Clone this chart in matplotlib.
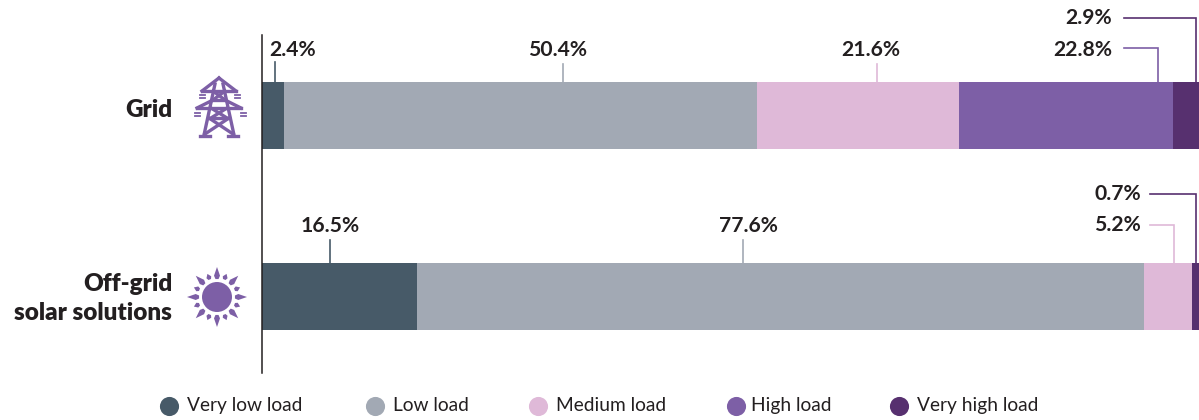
import numpy as np
import matplotlib.pyplot as plt
from matplotlib.patches import Polygon, Circle

plt.rcParams['font.family'] = ['Lato', 'DejaVu Sans']

# data
categories = ['Grid', 'Off-grid', 'solar solutions']
series = ['Very low load', 'Low load', 'Medium load', 'High load', 'Very high load']
grid_values = [2.4, 50.4, 21.6, 22.8, 2.9]
offgrid_values = [16.5, 77.6, 5.2, 0.0, 0.7]
colors = ['#475A68', '#A2A9B4', '#DFB9D8', '#7D5FA6', '#57306F']
TEXT = '#231F20'
W, H = 1199, 420

fig = plt.figure(figsize=(W / 100, H / 100), dpi=100)

# main axes, x in percent (0 at px 262, 100 at px 1199)
ax = fig.add_axes([262 / W, 0, 937 / W, 1])
ax.set_xlim(0, 100)
ax.set_ylim(1.682, -0.638)
values = np.array([grid_values, offgrid_values])
left = np.zeros(2)
for i, name in enumerate(series):
    ax.barh([0, 1], values[:, i], left=left, height=0.37, color=colors[i], label=name)
    left += values[:, i]
ax.set_xticks([])
ax.set_yticks([])
for s in ['top', 'right', 'bottom']:
    ax.spines[s].set_visible(False)
ax.spines['left'].set_bounds(-0.447, 1.425)
ax.spines['left'].set_linewidth(1.1)
ax.spines['left'].set_color(TEXT)
ax.spines['left'].set_zorder(5)
ax.patch.set_alpha(0)

# overlay in pixel coordinates for labels, leaders, icons, legend
ov = fig.add_axes([0, 0, 1, 1])
ov.set_xlim(0, W)
ov.set_ylim(H, 0)
ov.axis('off')
ov.patch.set_alpha(0)

# category labels
for txt, y in zip(categories, [110, 284, 313]):
    ov.text(172, y, txt, ha='right', va='center', fontsize=17.5, fontweight='heavy', color=TEXT)


# value labels and leader lines
def label(x, y, txt, ha='center'):
    ov.text(x, y, txt, ha=ha, va='center', fontsize=15.2, fontweight='bold', color=TEXT)


label(293, 50, '2.4%')
label(558, 50, '50.4%')
label(871, 50, '21.6%')
label(1112, 50, '22.8%', ha='right')
label(1112, 18.5, '2.9%', ha='right')
label(330, 226, '16.5%')
label(749, 226, '77.6%')
label(1141, 194, '0.7%', ha='right')
label(1141, 225, '5.2%', ha='right')

leaders = [
    ([275, 275], [62, 82], colors[0]),
    ([563, 563], [64, 82], colors[1]),
    ([877, 877], [64, 82], colors[2]),
    ([1124, 1158, 1158], [48, 48, 82], colors[3]),
    ([1124, 1196, 1196], [18, 18, 82], colors[4]),
    ([330, 330], [240, 263], colors[0]),
    ([743, 743], [240, 263], colors[1]),
    ([1150, 1174, 1174], [225, 225, 263], colors[2]),
    ([1150, 1196, 1196], [194, 194, 263], colors[4]),
]
for xs, ys, c in leaders:
    ov.plot(xs, ys, color=c, lw=1.2, solid_joinstyle='miter')

# tower icon
PURPLE = colors[3]
tower = [
    ([219, 202], [78, 91]), ([219, 236], [78, 91]), ([202, 236], [91, 91]),
    ([197, 241], [108, 108]), ([197, 213], [108, 100]), ([241, 225], [108, 100]),
    ([213, 225], [100, 100]), ([215, 204], [84, 135]), ([223, 234], [84, 135]),
    ([213, 225], [91, 100]), ([225, 213], [91, 100]),
    ([211, 227], [108, 118]), ([227, 211], [108, 118]),
    ([209, 229], [118, 118]), ([209, 233], [118, 134]), ([229, 205], [118, 134]),
    ([200, 210], [135.5, 135.5]), ([228, 238], [135.5, 135.5]),
]
for xs, ys in tower:
    ov.plot(xs, ys, color=PURPLE, lw=2.4, solid_capstyle='projecting')
for x, y in [(202, 96), (237, 96), (197, 114), (243, 114)]:
    ov.plot([x - 2.5, x + 2.5], [y - 1.5, y - 1.5], color=PURPLE, lw=1.3)
    ov.plot([x - 2.5, x + 2.5], [y + 1.5, y + 1.5], color=PURPLE, lw=1.3)

# sun icon
sx, sy = 217, 297
ov.add_patch(Circle((sx, sy), 15, color=PURPLE, lw=0))
for k in range(16):
    a = k * np.pi / 8
    big = k % 2 == 0
    r_in = 18 if big else 19
    r_mid = 21.5 if big else 21.5
    r_out = 30 if big else 25
    w_mid = 0.14 if big else 0.12
    pts = [(sx + r_in * np.cos(a - w_mid * 0.6), sy + r_in * np.sin(a - w_mid * 0.6)),
           (sx + r_mid * np.cos(a - w_mid), sy + r_mid * np.sin(a - w_mid)),
           (sx + r_out * np.cos(a), sy + r_out * np.sin(a)),
           (sx + r_mid * np.cos(a + w_mid), sy + r_mid * np.sin(a + w_mid)),
           (sx + r_in * np.cos(a + w_mid * 0.6), sy + r_in * np.sin(a + w_mid * 0.6))]
    ov.add_patch(Polygon(pts, closed=True, color=PURPLE, lw=0))

# legend
legend_dot_x = [169, 375, 538, 736, 899]
legend_text_x = [187, 393, 556, 751, 917]
for i, name in enumerate(series):
    ov.scatter(legend_dot_x[i], 406, s=190, color=colors[i], linewidths=0)
    ov.text(legend_text_x[i], 405.5, name, ha='left', va='center', fontsize=13.8, color=TEXT)

fig.savefig('out.png', dpi=100)
